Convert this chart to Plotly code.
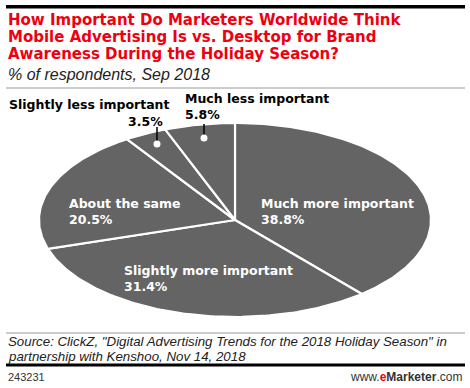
import numpy as np
import plotly.graph_objects as go

categories = ["Much more important", "Slightly more important", "About the same",
              "Slightly less important", "Much less important"]
values = [38.8, 31.4, 20.5, 3.5, 5.8]

W, H = 470, 388
cx, cy, rx, ry = 235, 220, 196, 97
fill = "#646464"
red = "#ee0010"

fig = go.Figure()

total = sum(values)
start = 0.0
for cat, v in zip(categories, values):
    a0 = start / total * 2 * np.pi
    a1 = (start + v) / total * 2 * np.pi
    t = np.linspace(a0, a1, max(8, int(v * 4)))
    xs = np.concatenate([[cx], cx + rx * np.sin(t), [cx]])
    ys = np.concatenate([[cy], cy - ry * np.cos(t), [cy]])
    fig.add_trace(go.Scatter(x=xs, y=ys, mode="lines", fill="toself",
                             fillcolor=fill, line=dict(color="white", width=2.2),
                             hoverinfo="text", text=f"{cat}: {v}%", showlegend=False))
    start += v

def ann(x, y, text, size, color="black", family="DejaVu Sans", xanchor="left", bold=False):
    fig.add_annotation(x=x / W, y=1 - y / H, xref="paper", yref="paper",
                       text=(f"<b>{text}</b>" if bold else text),
                       showarrow=False, xanchor=xanchor, yanchor="middle",
                       font=dict(size=size, color=color, family=family), align=xanchor)

def hbar(x0, x1, y, color, width):
    fig.add_shape(type="rect", xref="paper", yref="paper", x0=x0 / W, x1=x1 / W,
                  y0=1 - (y - width / 2) / H, y1=1 - (y + width / 2) / H,
                  fillcolor=color, line=dict(width=0), layer="above")

# inside labels
inside = {0: (259, 203), 1: (122, 270), 2: (67, 203)}
for i, (x, y) in inside.items():
    ann(x, y, categories[i], 12.5, "white", bold=True)
    ann(x, y + 16, f"{values[i]}%", 12.5, "white", bold=True)

# outside labels with leader lines
ann(7, 105, categories[3], 12.5, bold=True)
ann(165, 121, f"{values[3]}%", 12.5, xanchor="right", bold=True)
ann(183, 98, categories[4], 12.5, bold=True)
ann(183, 114, f"{values[4]}%", 12.5, bold=True)

for (x, y0, y1) in [(157, 127, 144), (204, 124, 138)]:
    fig.add_shape(type="line", x0=x, x1=x, y0=y0, y1=y1, line=dict(color="black", width=1.5))
    fig.add_shape(type="circle", x0=x - 3.5, x1=x + 3.5, y0=y1 - 3.5, y1=y1 + 3.5,
                  fillcolor="white", line=dict(width=0))

# title block: top rule (shape plus a filled annotation box as a fallback)
hbar(6, 465, 7, "black", 3)
fig.add_annotation(x=6 / W, y=1 - 5.5 / H, xref="paper", yref="paper", text=" ",
                   showarrow=False, xanchor="left", yanchor="top", width=459, height=3,
                   bgcolor="black", borderpad=0, borderwidth=0, font=dict(size=1))
title_lines = ["How Important Do Marketers Worldwide Think",
               "Mobile Advertising Is vs. Desktop for Brand",
               "Awareness During the Holiday Season?"]
for i, line in enumerate(title_lines):
    ann(6, 19.5 + i * 17.5, line, 15, red, bold=True)
ann(6, 74, "<i>% of respondents, Sep 2018</i>", 16, "#222222", family="Liberation Sans")
hbar(6, 465, 88, "#999999", 1.2)

# footer
hbar(6, 465, 333, "#999999", 1.2)
ann(6, 341, '<i>Source: ClickZ, "Digital Advertising Trends for the 2018 Holiday Season" in</i>',
    13.3, "#222222", family="Liberation Sans")
ann(6, 356, "<i>partnership with Kenshoo, Nov 14, 2018</i>", 13.3, "#222222", family="Liberation Sans")
hbar(6, 465, 365, "black", 3)
ann(6, 377, "243231", 11, "#333333", family="Liberation Sans")
ann(464, 377, f'www.<b><span style="color:{red}">e</span>Marketer</b>.com', 12, "#333333",
    family="Liberation Sans", xanchor="right")

fig.update_layout(width=W, height=H, margin=dict(l=0, r=0, t=0, b=0),
                  paper_bgcolor="white", plot_bgcolor="white",
                  xaxis=dict(range=[0, W], visible=False, fixedrange=True),
                  yaxis=dict(range=[H, 0], visible=False, fixedrange=True),
                  showlegend=False)
fig.write_html("out.html", config={"displayModeBar": False},
               post_script="document.body.style.margin='0';document.body.style.overflow='hidden';")
